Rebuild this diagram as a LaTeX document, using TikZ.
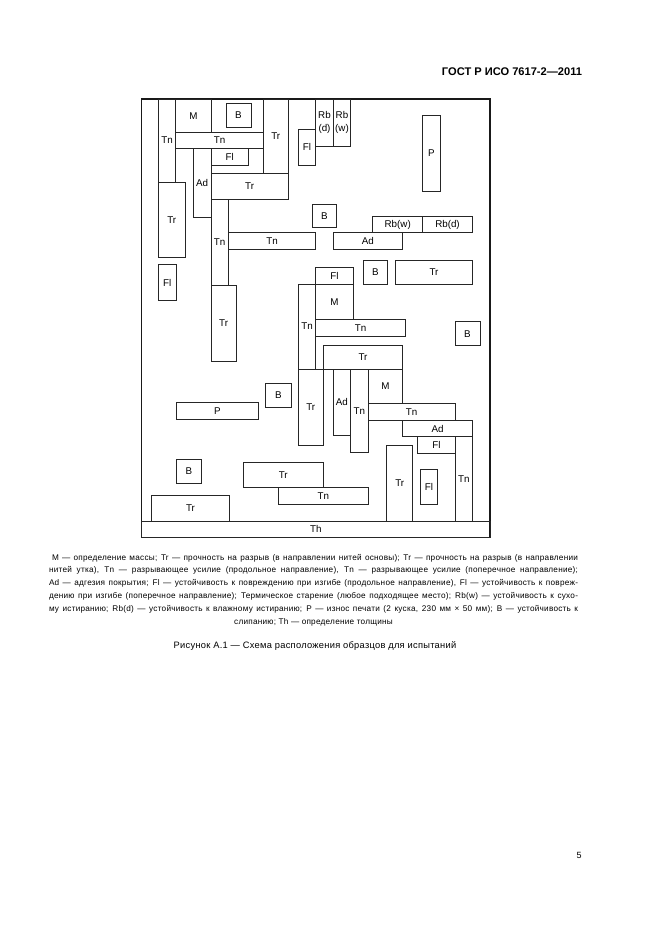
\documentclass[tikz,border=0pt]{standalone}
\usepackage{fontspec}
\setmainfont{Liberation Sans}
\newfontfamily\capfont[LetterSpace=3]{Liberation Sans}
\newfontfamily\titfont[LetterSpace=3]{Liberation Sans}
\tikzset{
  bx/.style={draw=black!85, line width=0.75pt, inner sep=0pt, outer sep=0pt,
    align=center, rectangle, font=\fontsize{9.8}{13}\selectfont},
  legline/.style={anchor=base west, inner sep=0pt, outer sep=0pt, font=\capfont\fontsize{8.2}{10}\selectfont},
}
\newcommand\bx[6]{\node[bx, minimum width={#4pt-#2pt}, minimum height={#5pt-#3pt}] (#1) at ({(#2+#4)/2},{(#3+#5)/2}) {#6};}
\newcommand\jl[3]{\node[legline] (#1) at (49,#2) {\hbox to 529pt{#3}};}
\begin{document}
\begin{tikzpicture}[x=1pt,y=-1pt]
\useasboundingbox[fill=white] (0,0) rectangle (661,936);
% header
\node[font=\bfseries\fontsize{11.1}{13}\selectfont, anchor=center] (hdr) at (512,72) {ГОСТ Р ИСО 7617-2—2011};
% frame
\node[draw=black!90, line width=1.1pt, inner sep=0pt, minimum width=348.5pt, minimum height=438.5pt] (frame) at (315.75,318.25) {};
\bx{th}{141.5}{521}{490}{537.5}{Th}
% top-left group
\bx{tna}{158.3}{99}{175.7}{182}{Tn}
\bx{ma}{175.7}{99}{211}{132.3}{M}
\bx{ba}{226}{103.3}{251}{127.3}{B}
\bx{tnb}{175.7}{132.3}{263.3}{148.7}{Tn}
\bx{tra}{263.3}{99}{288.3}{173.3}{Tr}
\bx{fla}{211}{148.7}{248.3}{165.3}{Fl}
\bx{ada}{193.3}{148.7}{211}{217.3}{Ad}
\bx{trb}{211}{173.3}{288.3}{199.3}{Tr}
\bx{tnc}{211}{199.3}{228.3}{285}{Tn}
\bx{trc}{211}{285}{236.3}{361}{Tr}
\bx{trd}{158.3}{182}{185.3}{257.7}{Tr}
\bx{tnd}{228.3}{232.7}{315.7}{249.3}{Tn}
\bx{flb}{158.3}{264.7}{176.3}{300.3}{Fl}
% top-middle
\bx{flc}{298.3}{129.3}{315.7}{165.3}{Fl}
\bx{rbda}{315.7}{99}{333.3}{146}{Rb\\(d)}
\bx{rbwa}{333.3}{99}{350.7}{146}{Rb\\(w)}
\bx{pa}{422.7}{115.3}{440}{191}{P}
\bx{bb}{312.3}{204.3}{336.7}{227.3}{B}
\bx{rbwb}{372.7}{216.7}{422.7}{232.7}{Rb(w)}
\bx{rbdb}{422.7}{216.7}{472.3}{232.7}{Rb(d)}
\bx{adb}{333.3}{232.7}{402.3}{249}{Ad}
% middle
\bx{fld}{315.7}{267.3}{353}{284}{Fl}
\bx{bc}{363}{260.7}{387.7}{284}{B}
\bx{tre}{395.3}{260.7}{472.7}{284}{Tr}
\bx{tne}{298.3}{284}{315.7}{369}{Tn}
\bx{mb}{315.7}{284}{353}{319.3}{M}
\bx{tnf}{315.7}{319.3}{405.7}{336}{Tn}
\bx{bd}{455}{321.7}{480}{345.7}{B}
\bx{trf}{323.3}{345.7}{402.7}{369}{Tr}
\bx{trg}{298.3}{369}{323.3}{445}{Tr}
\bx{adc}{333.3}{369}{350.3}{435.7}{Ad}
\bx{tng}{350.3}{369}{368.3}{452.3}{Tn}
\bx{mc}{368.3}{369}{402.7}{403.7}{M}
\bx{tnh}{368.3}{403.7}{455}{420.3}{Tn}
\bx{add}{402.7}{420.3}{472.5}{436.7}{Ad}
\bx{fle}{417.7}{436.7}{455.3}{453.3}{Fl}
\bx{tni}{455.3}{436.7}{472.5}{521}{Tn}
\bx{trh}{386.7}{445}{412.7}{521}{Tr}
\bx{flf}{420}{469}{437.7}{504.3}{Fl}
% left / bottom
\bx{be}{265.7}{383}{291}{407.3}{B}
\bx{pb}{176}{402.3}{258.7}{419.3}{P}
\bx{bf}{176}{459.3}{201.7}{483.3}{B}
\bx{tri}{151.3}{495}{229.7}{521}{Tr}
\bx{trj}{243.3}{462.7}{323.3}{487.7}{Tr}
\bx{tnj}{278.3}{487.7}{368.3}{504.3}{Tn}
% legend
\jl{la}{560}{\hskip 3pt M — определение массы; Tr — прочность на разрыв (в направлении нитей основы); Tr — прочность на разрыв (в направлении}
\jl{lb}{572.8}{нитей утка), Tn — разрывающее усилие (продольное направление), Tn — разрывающее усилие (поперечное направление);}
\jl{lc}{585.6}{Ad — адгезия покрытия; Fl — устойчивость к повреждению при изгибе (продольное направление), Fl — устойчивость к повреж-}
\jl{ld}{598.4}{дению при изгибе (поперечное направление); Термическое старение (любое подходящее место); Rb(w) — устойчивость к сухо-}
\jl{le}{611.2}{му истиранию; Rb(d) — устойчивость к влажному истиранию; P — износ печати (2 куска, 230 мм × 50 мм); B — устойчивость к}
\node[anchor=base, inner sep=0pt, font=\capfont\fontsize{8.2}{10}\selectfont] (lf) at (313.5,624) {слипанию; Th — определение толщины};
\node[font=\titfont\fontsize{9.3}{11}\selectfont] (fig) at (315,646) {Рисунок А.1 — Схема расположения образцов для испытаний};
\node[font=\fontsize{9}{11}\selectfont] (pg) at (579,855) {5};
\end{tikzpicture}
\end{document}
